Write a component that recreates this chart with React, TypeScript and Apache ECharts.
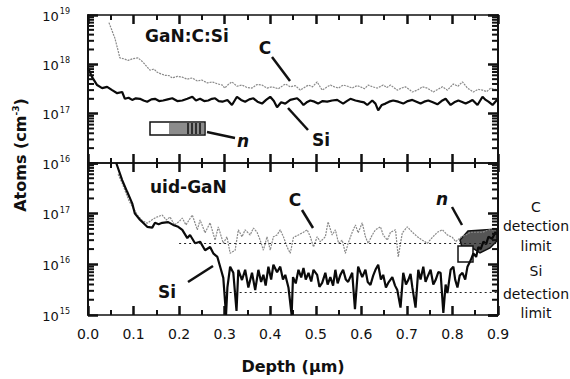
import React, { useEffect, useRef } from "react";
import * as echarts from "echarts";

// ---------- data (depth in µm, concentration in atoms/cm³) ----------
const depthMin = 0;
const depthMax = 0.9;
const depthStep = 0.1;

const topLogMin = 1e16;
const topLogMax = 1e19;
const bottomLogMin = 1e15;
const bottomLogMax = 1e18;

const cDetectionLimit = 2.6e16;
const siDetectionLimit = 2.8e15;
const cLimitStart = 0.2;
const siLimitStart = 0.3;

// GaN:C:Si – carbon
const topC: [number, number][] = [
  [0.046, 7e18], [0.059, 3.4e18], [0.066, 1.9e18], [0.07, 1.35e18], [0.078, 1.3e18], [0.088, 1.2e18],
  [0.098, 1.3e18], [0.11, 1.35e18], [0.121, 1.1e18], [0.136, 7.6e17], [0.145, 8e17], [0.152, 6.9e17],
  [0.16, 6.4e17], [0.169, 6e17], [0.178, 5.9e17], [0.185, 5.3e17], [0.196, 5.7e17], [0.207, 5.5e17],
  [0.218, 5e17], [0.229, 5.3e17], [0.24, 4.6e17], [0.25, 4.8e17], [0.262, 4.2e17], [0.273, 4.4e17],
  [0.285, 4e17], [0.295, 3.8e17], [0.3, 3.3e17], [0.308, 3.9e17], [0.316, 4.4e17], [0.327, 3.6e17],
  [0.338, 3.8e17], [0.349, 3.4e17], [0.36, 3.3e17], [0.371, 3.9e17], [0.382, 3.8e17], [0.393, 3.3e17],
  [0.404, 3.5e17], [0.418, 3.2e17], [0.433, 4e17], [0.444, 3.5e17], [0.455, 3.7e17], [0.466, 3e17],
  [0.475, 3.4e17], [0.484, 3.8e17], [0.493, 3.5e17], [0.503, 4.4e17], [0.514, 3e17], [0.523, 3.4e17],
  [0.532, 3.8e17], [0.541, 3.5e17], [0.55, 3.3e17], [0.56, 3.8e17], [0.57, 3.6e17], [0.58, 3.3e17],
  [0.59, 3.7e17], [0.598, 3.5e17], [0.607, 3.2e17], [0.615, 3.8e17], [0.625, 3.5e17], [0.635, 3.3e17],
  [0.648, 3.8e17], [0.656, 3.4e17], [0.664, 3.8e17], [0.679, 3e17], [0.688, 3.3e17], [0.697, 3.5e17],
  [0.705, 3.1e17], [0.712, 2.75e17], [0.723, 3e17], [0.734, 3.5e17], [0.745, 3.3e17], [0.758, 2.75e17],
  [0.768, 3.1e17], [0.778, 3.5e17], [0.789, 3e17], [0.802, 4e17], [0.812, 3.6e17], [0.822, 4.4e17],
  [0.833, 3.3e17], [0.846, 2.75e17], [0.856, 3.1e17], [0.866, 3e17], [0.875, 2.8e17], [0.884, 3.3e17],
  [0.9, 3e17],
];

// GaN:C:Si – silicon
const topSi: [number, number][] = [
  [0, 8.5e17], [0.009, 5.5e17], [0.02, 3.8e17], [0.031, 3.3e17], [0.042, 3.5e17], [0.053, 3e17],
  [0.064, 2.6e17], [0.075, 2.75e17], [0.081, 2e17], [0.089, 2.1e17], [0.097, 1.9e17], [0.105, 2.05e17],
  [0.114, 2e17], [0.122, 1.85e17], [0.13, 1.75e17], [0.139, 1.95e17], [0.147, 2e17], [0.156, 1.8e17],
  [0.165, 1.85e17], [0.175, 1.95e17], [0.185, 2.05e17], [0.196, 1.8e17], [0.207, 1.85e17], [0.218, 2e17],
  [0.229, 2.2e17], [0.237, 1.85e17], [0.246, 2e17], [0.255, 1.8e17], [0.264, 1.85e17], [0.272, 2e17],
  [0.279, 2.05e17], [0.287, 1.8e17], [0.295, 1.75e17], [0.306, 1.9e17], [0.316, 1.5e17], [0.327, 2.2e17],
  [0.336, 1.9e17], [0.345, 1.75e17], [0.354, 1.95e17], [0.363, 2.05e17], [0.372, 1.75e17], [0.382, 1.6e17],
  [0.391, 1.9e17], [0.4, 2.2e17], [0.408, 1.8e17], [0.415, 1.35e17], [0.424, 1.7e17], [0.433, 1.6e17],
  [0.444, 1.9e17], [0.459, 2.05e17], [0.466, 1.8e17], [0.473, 1.5e17], [0.48, 1.7e17], [0.488, 1.85e17],
  [0.497, 1.75e17], [0.505, 1.6e17], [0.515, 1.8e17], [0.525, 1.75e17], [0.536, 1.85e17], [0.547, 1.9e17],
  [0.553, 1.75e17], [0.56, 1.6e17], [0.568, 1.8e17], [0.576, 2e17], [0.587, 1.85e17], [0.598, 1.75e17],
  [0.606, 1.7e17], [0.613, 1.5e17], [0.624, 1.85e17], [0.631, 1.6e17], [0.637, 1.17e17], [0.645, 1.5e17],
  [0.653, 1.6e17], [0.661, 1.75e17], [0.67, 1.85e17], [0.681, 1.75e17], [0.692, 1.6e17], [0.702, 1.8e17],
  [0.712, 1.9e17], [0.721, 1.75e17], [0.73, 1.6e17], [0.738, 1.75e17], [0.747, 1.85e17], [0.757, 1.7e17],
  [0.767, 1.55e17], [0.776, 1.8e17], [0.785, 2e17], [0.796, 1.5e17], [0.804, 1.7e17], [0.813, 1.85e17],
  [0.82, 1.75e17], [0.829, 1.6e17], [0.837, 1.75e17], [0.844, 1.9e17], [0.855, 1.5e17], [0.866, 2.2e17],
  [0.873, 1.9e17], [0.879, 1.75e17], [0.888, 1.5e17], [0.9, 2e17],
];

// uid-GaN – carbon
const bottomC: [number, number][] = [
  [0.066, 6e17], [0.075, 4e17], [0.083, 2.6e17], [0.09, 1.8e17], [0.1, 1.25e17], [0.11, 9e16],
  [0.12, 7.2e16], [0.13, 6.5e16], [0.14, 7.5e16], [0.15, 8.5e16], [0.163, 9.4e16], [0.172, 7.5e16],
  [0.18, 8.6e16], [0.19, 6e16], [0.2, 7e16], [0.207, 8.2e16], [0.215, 6e16], [0.229, 9.4e16],
  [0.24, 4.8e16], [0.246, 7.5e16], [0.257, 4.2e16], [0.268, 6.6e16], [0.279, 3e16], [0.286, 5.5e16],
  [0.297, 2.6e16], [0.305, 3.5e16], [0.312, 1.65e16], [0.323, 1.9e16], [0.33, 4.8e16], [0.338, 3.5e16],
  [0.345, 4.8e16], [0.356, 3.8e16], [0.363, 5.2e16], [0.371, 4.3e16], [0.378, 3e16], [0.385, 1.9e16],
  [0.393, 3.5e16], [0.4, 1.9e16], [0.407, 3.5e16], [0.415, 3.8e16], [0.422, 4.8e16], [0.429, 3.5e16],
  [0.437, 2.2e16], [0.444, 1.65e16], [0.451, 3.4e16], [0.462, 3.8e16], [0.473, 4.3e16], [0.481, 4.8e16],
  [0.488, 3.5e16], [0.495, 2.2e16], [0.503, 3.5e16], [0.51, 2.8e16], [0.521, 3.5e16], [0.527, 6.9e16],
  [0.536, 3.8e16], [0.543, 4.8e16], [0.55, 2.6e16], [0.558, 3e16], [0.565, 1.65e16], [0.571, 2.6e16],
  [0.58, 4.3e16], [0.587, 6e16], [0.593, 4.2e16], [0.602, 6.6e16], [0.609, 3.5e16], [0.615, 2.6e16],
  [0.624, 3.8e16], [0.631, 4.8e16], [0.642, 5.5e16], [0.648, 3.8e16], [0.657, 3e16], [0.664, 4.3e16],
  [0.675, 4.8e16], [0.681, 1.4e16], [0.69, 4.2e16], [0.701, 5.5e16], [0.712, 4.3e16], [0.723, 3.5e16],
  [0.734, 3e16], [0.745, 2.6e16], [0.756, 3.4e16], [0.767, 4.3e16], [0.778, 4.8e16], [0.789, 3.8e16],
  [0.8, 3.4e16], [0.807, 2.8e16], [0.818, 3.4e16], [0.829, 3.8e16], [0.84, 4.3e16], [0.851, 4.3e16],
  [0.866, 4.3e16], [0.879, 4.8e16], [0.895, 4.8e16],
];

// uid-GaN – silicon
const bottomSi: [number, number][] = [
  [0.062, 1e18], [0.075, 4.6e17], [0.086, 2.7e17], [0.097, 1.6e17], [0.103, 1e17], [0.114, 7.6e16],
  [0.13, 5.5e16], [0.141, 5.3e16], [0.147, 6.6e16], [0.155, 6.2e16], [0.163, 6.6e16], [0.176, 6.8e16],
  [0.187, 6e16], [0.198, 5.5e16], [0.207, 4.8e16], [0.218, 3.3e16], [0.224, 3.8e16], [0.235, 2.6e16],
  [0.246, 2.8e16], [0.257, 1.9e16], [0.268, 2.2e16], [0.275, 1.65e16], [0.284, 1.4e16], [0.292, 7.8e15],
  [0.297, 5.4e15], [0.303, 1e15], [0.306, 3.5e15], [0.312, 9e15], [0.319, 6.8e15], [0.326, 1.2e15],
  [0.33, 7.8e15], [0.338, 4.9e15], [0.345, 7.8e15], [0.352, 3.5e15], [0.36, 6.8e15], [0.367, 3.1e15],
  [0.374, 7.8e15], [0.38, 4.5e15], [0.385, 6.2e15], [0.39, 3.8e15], [0.396, 9e15], [0.402, 5e15],
  [0.407, 9.8e15], [0.415, 7e15], [0.422, 9e15], [0.428, 5e15], [0.433, 6.2e15], [0.44, 3.5e15],
  [0.447, 1e15], [0.45, 5.6e15], [0.456, 4.2e15], [0.462, 7.8e15], [0.468, 5.5e15], [0.473, 8.5e15],
  [0.478, 5e15], [0.484, 6.8e15], [0.49, 4.6e15], [0.495, 7.8e15], [0.503, 6.2e15], [0.508, 3.6e15],
  [0.514, 4.3e15], [0.521, 6.8e15], [0.526, 4e15], [0.532, 5.6e15], [0.538, 3.8e15], [0.543, 7.8e15],
  [0.548, 4.2e15], [0.554, 6.2e15], [0.56, 7.8e15], [0.566, 5e15], [0.571, 4.5e15], [0.58, 6.8e15],
  [0.586, 1.3e15], [0.593, 9e15], [0.602, 5.6e15], [0.609, 7.8e15], [0.614, 4.5e15], [0.62, 3.9e15],
  [0.626, 6e15], [0.631, 7.8e15], [0.637, 9.8e15], [0.643, 5e15], [0.648, 6.2e15], [0.654, 3.5e15],
  [0.659, 4.3e15], [0.668, 5.6e15], [0.674, 3.8e15], [0.679, 3.1e15], [0.686, 1.4e15], [0.692, 6.8e15],
  [0.698, 4e15], [0.703, 4.9e15], [0.708, 6.5e15], [0.712, 3.5e15], [0.719, 1.4e15], [0.725, 7.8e15],
  [0.73, 5e15], [0.736, 9e15], [0.741, 4.5e15], [0.745, 5.6e15], [0.752, 7.8e15], [0.758, 4e15],
  [0.763, 4.9e15], [0.769, 7e15], [0.774, 6.8e15], [0.78, 1.1e15], [0.785, 4e15], [0.789, 2.7e15],
  [0.796, 7.8e15], [0.802, 9e15], [0.806, 5e15], [0.811, 3.5e15], [0.816, 6e15], [0.822, 6.8e15],
  [0.828, 5e15], [0.833, 9e15], [0.84, 1.2e16], [0.846, 1.65e16], [0.852, 1.4e16], [0.857, 2.2e16],
  [0.862, 2e16], [0.868, 2.8e16], [0.874, 2.5e16], [0.879, 3.5e16], [0.887, 3.2e16], [0.895, 4.4e16],
];

// ---------- styling ----------
const FONT = "DejaVu Sans";
const INK = "#111";
const C_COLOR = "#8a8a8a";
const SI_COLOR = "#0a0a0a";

// minor log tick values (2..9 × each decade) at a given frame depth
function minorLogTicks(lo: number, hi: number, depth: number): number[][] {
  const out: number[][] = [];
  for (let d = lo; d < hi; d *= 10) {
    for (let m = 2; m <= 9; m++) out.push([depth, m * d]);
  }
  return out;
}

function xAxis(gridIndex: number, position: "top" | "bottom", labels: boolean) {
  return {
    type: "value",
    gridIndex,
    position,
    min: depthMin,
    max: depthMax,
    interval: depthStep,
    axisLine: { show: true, onZero: false, lineStyle: { color: INK, width: 1.5 } },
    axisTick: { show: true, inside: true, length: 9, lineStyle: { color: INK, width: 2.5 } },
    minorTick: { show: true, splitNumber: 2, length: 5, lineStyle: { color: INK, width: 2 } },
    splitLine: { show: false },
    minorSplitLine: { show: false },
    axisLabel: labels
      ? {
          show: true,
          margin: 12,
          fontFamily: FONT,
          fontSize: 14,
          color: INK,
          formatter: (v: number) => v.toFixed(1),
        }
      : { show: false },
  };
}

function yAxis(
  gridIndex: number,
  min: number,
  max: number,
  position: "left" | "right",
  labels: boolean,
  hideTopLabel: boolean
) {
  return {
    type: "log",
    logBase: 10,
    gridIndex,
    position,
    min,
    max,
    axisLine: { show: true, onZero: false, lineStyle: { color: INK, width: 2 } },
    axisTick: { show: true, inside: true, length: 10, lineStyle: { color: INK, width: 2.5 } },
    splitLine: { show: false },
    axisLabel: labels
      ? {
          show: true,
          margin: 18,
          color: INK,
          formatter: (v: number) => {
            const e = Math.round(Math.log10(v));
            if (hideTopLabel && Math.abs(v - max) / max < 1e-6) return "";
            return `{b|10}{s|${e}}`;
          },
          rich: {
            b: { fontFamily: FONT, fontSize: 13, color: INK, verticalAlign: "bottom" },
            s: { fontFamily: FONT, fontSize: 8, color: INK, verticalAlign: "bottom", padding: [0, 0, 7, 1] },
          },
        }
      : { show: false },
  };
}

// minor ticks on a vertical frame edge, placed by the log axis (small rect symbols)
function minorTickSeries(xAxisIndex: number, yAxisIndex: number, lo: number, hi: number, side: "left" | "right") {
  return {
    type: "scatter",
    xAxisIndex,
    yAxisIndex,
    silent: true,
    clip: false,
    z: 5,
    data: minorLogTicks(lo, hi, side === "left" ? depthMin : depthMax),
    symbol: "rect",
    symbolSize: [6, 2],
    symbolOffset: [side === "left" ? 3 : -3, 0],
    itemStyle: { color: INK, opacity: 1 },
  };
}

function text(x: number, y: number, t: string, size: number, opts: any = {}) {
  return {
    type: "text",
    x,
    y,
    silent: true,
    style: {
      text: t,
      fontFamily: FONT,
      fontSize: size,
      fontWeight: opts.weight ?? "bold",
      fontStyle: opts.italic ? "italic" : "normal",
      fill: INK,
      align: opts.align ?? "center",
      verticalAlign: "middle",
    },
  };
}

function arrow(x1: number, y1: number, x2: number, y2: number) {
  return {
    type: "line",
    silent: true,
    shape: { x1, y1, x2, y2 },
    style: { stroke: INK, lineWidth: 2.5 },
  };
}

export default function App() {
  const ref = useRef<HTMLDivElement>(null);

  useEffect(() => {
    if (!ref.current) return;
    const chart = echarts.init(ref.current, null, { renderer: "svg" });

    const option: any = {
      animation: false,
      backgroundColor: "#fff",
      grid: [
        { left: 88, top: 15, width: 410, height: 148, containLabel: false },
        { left: 88, top: 163, width: 410, height: 152, containLabel: false },
      ],
      xAxis: [
        xAxis(0, "bottom", false),
        xAxis(0, "top", false),
        xAxis(1, "bottom", true),
        xAxis(1, "top", false),
      ],
      yAxis: [
        yAxis(0, topLogMin, topLogMax, "left", true, false),
        yAxis(0, topLogMin, topLogMax, "right", false, false),
        yAxis(1, bottomLogMin, bottomLogMax, "left", true, true),
        yAxis(1, bottomLogMin, bottomLogMax, "right", false, false),
      ],
      series: [
        minorTickSeries(0, 0, topLogMin, topLogMax, "left"),
        minorTickSeries(0, 0, topLogMin, topLogMax, "right"),
        minorTickSeries(2, 2, bottomLogMin, bottomLogMax, "left"),
        minorTickSeries(2, 2, bottomLogMin, bottomLogMax, "right"),
        {
          name: "C (GaN:C:Si)",
          type: "line",
          xAxisIndex: 0,
          yAxisIndex: 0,
          data: topC,
          symbol: "none",
          lineStyle: { color: C_COLOR, width: 1.2, type: [2, 1] },
          z: 2,
        },
        {
          name: "Si (GaN:C:Si)",
          type: "line",
          xAxisIndex: 0,
          yAxisIndex: 0,
          data: topSi,
          symbol: "none",
          lineStyle: { color: SI_COLOR, width: 2.2 },
          z: 3,
        },
        {
          name: "C (uid-GaN)",
          type: "line",
          xAxisIndex: 2,
          yAxisIndex: 2,
          data: bottomC,
          symbol: "none",
          lineStyle: { color: C_COLOR, width: 1.2, type: [2, 1] },
          z: 2,
        },
        {
          name: "Si (uid-GaN)",
          type: "line",
          xAxisIndex: 2,
          yAxisIndex: 2,
          data: bottomSi,
          symbol: "none",
          lineStyle: { color: SI_COLOR, width: 2.2 },
          z: 3,
          markLine: {
            silent: true,
            symbol: "none",
            label: { show: false },
            lineStyle: { color: "#222", width: 1, type: [2, 3] },
            data: [
              [{ coord: [cLimitStart, cDetectionLimit] }, { coord: [depthMax, cDetectionLimit] }],
              [{ coord: [siLimitStart, siDetectionLimit] }, { coord: [depthMax, siDetectionLimit] }],
            ],
          },
        },
      ],
      graphic: [
        // axis titles
        {
          type: "text",
          x: 20,
          y: 155,
          rotation: Math.PI / 2,
          silent: true,
          style: {
            text: "{a|Atoms (cm}{s|-3}{a|)}",
            align: "center",
            verticalAlign: "middle",
            fill: INK,
            rich: {
              a: { fontFamily: FONT, fontSize: 16, fontWeight: "bold", fill: INK, verticalAlign: "bottom" },
              s: { fontFamily: FONT, fontSize: 9, fontWeight: "bold", fill: INK, verticalAlign: "bottom", padding: [0, 0, 8, 0] },
            },
          },
        },
        text(293, 366, "Depth (\u00b5m)", 16),
        // panel titles
        text(145, 36, "GaN:C:Si", 17, { align: "left" }),
        text(150, 187, "uid-GaN", 17, { align: "left" }),
        // top panel annotations
        text(265, 48, "C", 17),
        arrow(272, 57, 290, 81),
        text(321, 140, "Si", 17),
        arrow(308, 130, 288, 108),
        text(243, 141, "n", 17, { italic: true }),
        arrow(207, 132, 235, 138),
        // top n-layer box
        { type: "rect", silent: true, shape: { x: 150, y: 122, width: 55, height: 13 }, style: { fill: "#fff", stroke: INK, lineWidth: 1.5 } },
        { type: "rect", silent: true, shape: { x: 169, y: 123, width: 35, height: 11 }, style: { fill: "#8c8c8c" } },
        ...[188, 192, 196, 200].map((x) => ({
          type: "line",
          silent: true,
          shape: { x1: x, y1: 123, x2: x, y2: 134 },
          style: { stroke: INK, lineWidth: 1.5 },
        })),
        // bottom panel annotations
        text(295, 200, "C", 17),
        arrow(302, 210, 313, 228),
        text(167, 292, "Si", 17),
        arrow(188, 282, 213, 266),
        text(442, 199, "n", 17, { italic: true }),
        arrow(452, 207, 462, 225),
        {
          type: "polygon",
          silent: true,
          shape: {
            points: [
              [460, 240], [468, 231], [497, 229], [497, 241], [490, 248], [480, 253], [474, 249], [462, 247],
            ],
          },
          style: { fill: "#555", stroke: INK, lineWidth: 1.5 },
        },
        { type: "rect", silent: true, shape: { x: 458, y: 246, width: 15, height: 16 }, style: { fill: "#fff", stroke: INK, lineWidth: 1.5 } },
        // detection-limit labels
        text(536, 207, "C", 14, { weight: "normal" }),
        text(536, 226, "detection", 14, { weight: "normal" }),
        text(536, 246, "limit", 14, { weight: "normal" }),
        text(536, 271, "Si", 14, { weight: "normal" }),
        text(536, 294, "detection", 14, { weight: "normal" }),
        text(536, 313, "limit", 14, { weight: "normal" }),
      ],
    };

    chart.setOption(option);
    return () => chart.dispose();
  }, []);

  return (
    <div
      ref={ref}
      style={{ position: "fixed", left: 0, top: 0, width: 570, height: 379, background: "#fff" }}
    />
  );
}
